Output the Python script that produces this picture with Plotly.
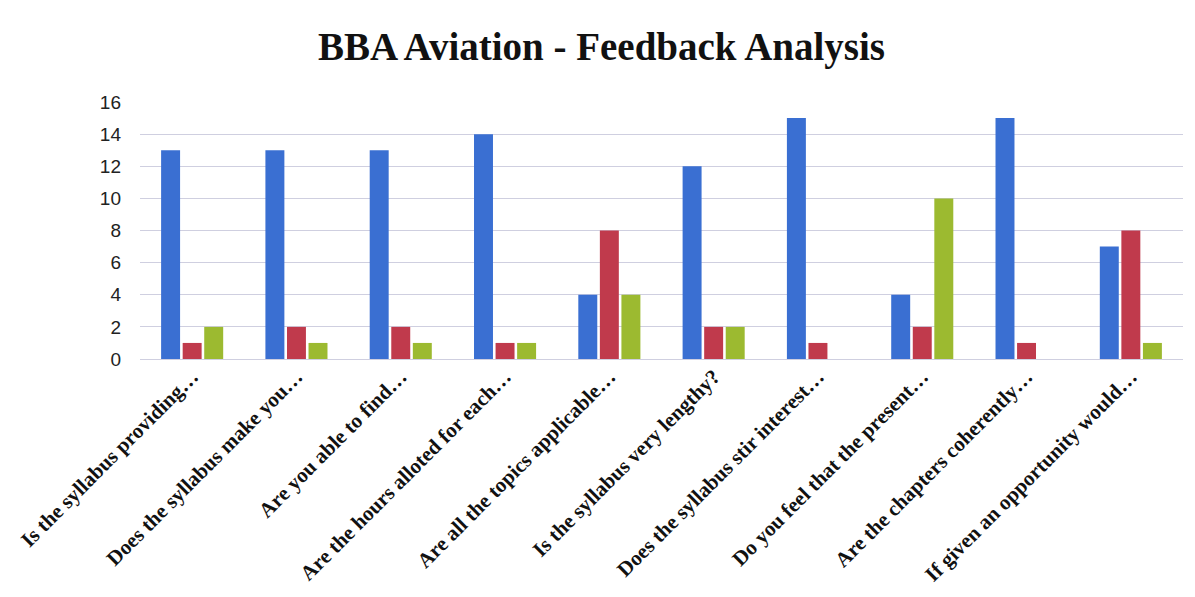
import plotly.graph_objects as go

categories = [
    "Is the syllabus providing…",
    "Does the syllabus make you…",
    "Are you able to find…",
    "Are the hours alloted for each…",
    "Are all the topics applicable…",
    "Is the syllabus very lengthy?",
    "Does the syllabus stir interest…",
    "Do you feel that the present…",
    "Are the chapters coherently…",
    "If given an opportunity would…",
]
series1 = [13, 13, 13, 14, 4, 12, 15, 4, 15, 7]
series2 = [1, 2, 2, 1, 8, 2, 1, 2, 1, 8]
series3 = [2, 1, 1, 1, 4, 2, 0, 10, 0, 1]
yticks = [0, 2, 4, 6, 8, 10, 12, 14, 16]

colors = ["#3a6fd2", "#c03a4c", "#9cba30"]

fig = go.Figure()
for vals, c in zip([series1, series2, series3], colors):
    fig.add_trace(go.Bar(x=categories, y=vals, marker=dict(color=c, line=dict(width=0))))

fig.update_layout(
    width=1187, height=589,
    paper_bgcolor="white", plot_bgcolor="white",
    showlegend=False,
    barmode="group", bargap=0.38, bargroupgap=0.12,
    margin=dict(l=132, r=12, t=94, b=238, autoexpand=False),
    title=dict(text="<b>BBA Aviation - Feedback Analysis</b>", x=0.5, xanchor="center",
               y=0.935, yanchor="middle",
               font=dict(family="Liberation Serif", size=39, color="#111")),
)
fig.update_yaxes(range=[0, 16], tickvals=yticks, showgrid=True,
                 gridcolor="#cfcfe0", gridwidth=1, zeroline=False,
                 showline=False, ticks="", ticklen=0, ticklabelstandoff=18,
                 tickfont=dict(family="Liberation Sans", size=19, color="#222"))
fig.update_xaxes(tickangle=-45, showline=True, linecolor="#cfcfe0", linewidth=1,
                 ticks="", automargin=False, ticklabelstandoff=-4,
                 tickfont=dict(family="Liberation Serif", size=21, color="#111", weight="bold"))

fig.write_html("out.html")
